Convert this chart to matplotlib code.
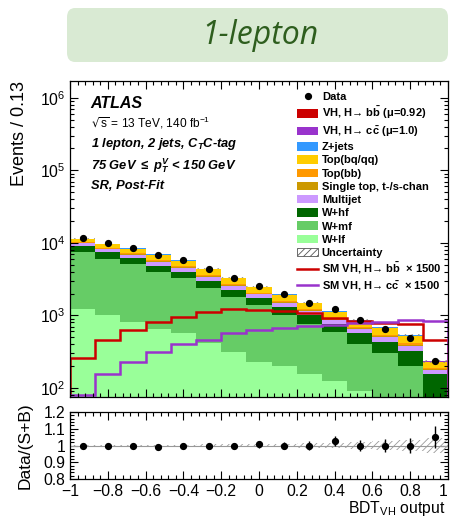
'''
1-lepton BDT_VH output, post-fit stack with ratio panel
'''

import numpy as np
import matplotlib
matplotlib.use('Agg')
import matplotlib.pyplot as plt
from matplotlib.patches import FancyBboxPatch, Patch
from matplotlib.lines import Line2D
from matplotlib.ticker import MultipleLocator, LogLocator, NullFormatter, FixedLocator

plt.rcParams['font.family'] = ['Liberation Sans', 'DejaVu Sans']
plt.rcParams['mathtext.default'] = 'regular'
plt.rcParams['hatch.linewidth'] = 0.6

# ---- data ----
edges = np.linspace(-1.0, 1.0, 16)

w_lf     = [1220, 1015, 805, 645, 568, 418, 314, 229, 201, 156, 122, 89, 65, 50, 30]
w_mf     = [6370, 5055, 4275, 3335, 2692, 1997, 1486, 1154, 815, 608, 476, 315, 236, 147, 35]
w_hf     = [1590, 1380, 1190, 880, 760, 575, 450, 344, 306, 252, 159, 164, 134, 120, 91]
multijet = [640, 650, 610, 590, 490, 400, 300, 215, 180, 135, 110, 85, 70, 60, 20]
stop_ts  = [115, 115, 110, 105, 88, 72, 54, 39, 32, 24, 20, 15, 13, 11, 4]
top_bb   = [230, 230, 220, 210, 175, 143, 107, 77, 64, 48, 40, 30, 25, 22, 8]
top_bqqq = [1140, 1160, 1090, 1060, 875, 715, 535, 387, 320, 242, 198, 150, 126, 110, 38]
zjets    = [140, 140, 130, 130, 105, 86, 64, 46, 38, 29, 24, 18, 15, 13, 4]
vh_cc    = [0.05, 0.1, 0.15, 0.2, 0.27, 0.3, 0.38, 0.41, 0.45, 0.48, 0.49, 0.52, 0.53, 0.57, 0.55]
vh_bb    = [0.16, 0.28, 0.39, 0.49, 0.58, 0.69, 0.75, 0.73, 0.70, 0.66, 0.57, 0.51, 0.48, 0.47, 0.28]

sm_bb_x1500 = [257, 459, 631, 806, 944, 1128, 1218, 1191, 1143, 1072, 933, 832, 776, 764, 459]
sm_cc_x1500 = [81, 156, 225, 314, 405, 459, 574, 621, 679, 717, 740, 776, 801, 859, 826]

data = [11600, 9900, 8530, 6900, 5770, 4370, 3320, 2580, 1980, 1500, 1217, 867, 658, 484, 238]

ratio     = [1.0, 1.0, 0.995, 0.99, 1.0, 0.998, 1.0, 1.008, 1.0, 1.0, 1.025, 1.0, 1.0, 1.0, 1.05]
ratio_err = [0.009, 0.010, 0.011, 0.012, 0.013, 0.015, 0.017, 0.020, 0.022, 0.026, 0.029, 0.034, 0.039, 0.045, 0.065]
rel_unc   = [0.004, 0.004, 0.005, 0.005, 0.005, 0.006, 0.007, 0.008, 0.010, 0.012, 0.015, 0.020, 0.025, 0.035, 0.045]

# bottom -> top
stack = [
  (w_lf,     '#99ff99', 'W+lf'),
  (w_mf,     '#66cc66', 'W+mf'),
  (w_hf,     '#006600', 'W+hf'),
  (multijet, '#cc99ff', 'Multijet'),
  (stop_ts,  '#cc9900', 'Single top, t-/s-chan'),
  (top_bb,   '#ff9900', 'Top(bb)'),
  (top_bqqq, '#ffcc00', 'Top(bq/qq)'),
  (zjets,    '#3399ff', 'Z+jets'),
  (vh_cc,    '#9933cc', 'VH, H\u2192 c$\\bar{c}$ (\u03bc=1.0)'),
  (vh_bb,    '#cc0000', 'VH, H\u2192 b$\\bar{b}$ (\u03bc=0.92)'),
]

W, H = 450, 519
fig = plt.figure(figsize=(W/100., H/100.), dpi=100)

ax = fig.add_axes([70/W, 1-397/H, 378/W, 316/H])
axr = fig.add_axes([70/W, 1-479/H, 378/W, 67/H], sharex=ax)

# ---- banner ----
banner = FancyBboxPatch((67/W, 1-62/H), 381/W, 54/H, boxstyle="round,pad=0,rounding_size=0.018",
                        transform=fig.transFigure, facecolor='#d9ead3', edgecolor='none')
fig.patches.append(banner)
fig.text(260/W, 1-36/H, '1-lepton', family=['Open Sans', 'DejaVu Sans'], style='italic',
         fontsize=23, color='#2e5e1e', ha='center', va='center')

# ---- main stack ----
base = np.ones(len(data))
for vals, col, lab in stack:
  top = base + np.array(vals, dtype=float)
  ax.stairs(top, edges, baseline=base, fill=True, color=col, lw=0)
  base = top

total = base - 1
unc = np.array(rel_unc)
ax.stairs(total*(1+unc), edges, baseline=total*(1-unc), fill=True, facecolor='none',
          edgecolor='#888888', hatch='/////', lw=0)

ax.stairs(sm_bb_x1500, edges, color='#cc0000', lw=1.8)
ax.stairs(sm_cc_x1500, edges, color='#9933cc', lw=1.8)

centres = 0.5*(edges[1:] + edges[:-1])
ax.errorbar(centres, data, yerr=np.sqrt(data), fmt='o', color='black', ms=4.2, lw=1)

ax.set_yscale('log')
ax.set_ylim(75, 1.7e6)
ax.set_xlim(-1, 1)

ax.yaxis.set_major_locator(LogLocator(base=10, numticks=10))
ax.yaxis.set_minor_locator(LogLocator(base=10, subs=np.arange(2, 10), numticks=20))
ax.yaxis.set_minor_formatter(NullFormatter())
ax.set_ylabel('Events / 0.13', fontsize=13, loc='top')
ax.yaxis.set_label_coords(-0.111, 1.0)
plt.setp(ax.get_xticklabels(), visible=False)

# ---- texts ----
ax.text(0.055, 0.930, 'ATLAS', transform=ax.transAxes, fontsize=11.5, weight='bold', style='italic', va='center')
ax.text(0.055, 0.866, r'$\sqrt{s}$ = 13 TeV, 140 fb$^{-1}$', transform=ax.transAxes, fontsize=8.6, va='center')
ax.text(0.055, 0.800, r'1 lepton, 2 jets, C$_{T}$C-tag', transform=ax.transAxes, fontsize=9.3,
        weight='bold', style='italic', va='center')
ax.text(0.055, 0.733, r'75 GeV $\leq$ p$_{T}^{V}$ < 150 GeV', transform=ax.transAxes, fontsize=9.3,
        weight='bold', style='italic', va='center')
ax.text(0.055, 0.668, 'SR, Post-Fit', transform=ax.transAxes, fontsize=9.3,
        weight='bold', style='italic', va='center')

# ---- legend ----
handles = [Line2D([], [], ls='none', marker='o', color='black', ms=4.2)]
labels = ['Data']
for vals, col, lab in stack[::-1]:
  handles.append(Patch(facecolor=col, edgecolor='none'))
  labels.append(lab)
handles.append(Patch(facecolor='white', edgecolor='#555555', hatch='/////', lw=0.6))
labels.append('Uncertainty')
handles.append(Line2D([], [], color='#cc0000', lw=1.8))
labels.append('SM VH, H\u2192 b$\\bar{b}$  \u00d7 1500')
handles.append(Line2D([], [], color='#9933cc', lw=1.8))
labels.append('SM VH, H\u2192 c$\\bar{c}$  \u00d7 1500')

ax.legend(handles, labels, loc='upper left', bbox_to_anchor=(0.6, 0.966), frameon=False,
          prop={'size': 8, 'weight': 'bold'}, handlelength=1.95, handleheight=0.8,
          handletextpad=0.3, labelspacing=0.28, borderaxespad=0, borderpad=0)

# ---- ratio panel ----
ru = np.array(rel_unc)
axr.stairs(1+ru, edges, baseline=1-ru, fill=True, facecolor='none', edgecolor='#999999',
           hatch='/////', lw=0)
axr.axhline(1.0, color='#999999', lw=0.8)
axr.errorbar(centres, ratio, yerr=ratio_err, fmt='o', color='black', ms=4.2, lw=1)
axr.set_ylim(0.8, 1.2)
axr.yaxis.set_major_locator(FixedLocator([0.8, 0.9, 1.0, 1.1, 1.2]))
axr.yaxis.set_minor_locator(MultipleLocator(0.02))
axr.set_yticklabels(['0.8', '0.9', '1', '1.1', '1.2'])
axr.set_ylabel('Data/(S+B)', fontsize=12.5)
axr.yaxis.set_label_coords(-0.098, 0.5)
axr.set_xlabel(r'BDT$_{VH}$ output', fontsize=11.3, loc='right')
axr.xaxis.set_label_coords(0.993, -0.30)
axr.xaxis.set_major_locator(MultipleLocator(0.2))
axr.xaxis.set_minor_locator(MultipleLocator(0.04))
axr.set_xticks(np.arange(-1, 1.01, 0.2))
axr.set_xticklabels(['\u22121', '\u22120.8', '\u22120.6', '\u22120.4', '\u22120.2', '0',
                     '0.2', '0.4', '0.6', '0.8', '1'])
axr.get_xticklabels()[-1].set_ha('right')

for a in (ax, axr):
  a.tick_params(which='both', direction='in', top=True, right=True, labelsize=11.3)
  a.tick_params(which='major', length=6, width=0.8)
  a.tick_params(which='minor', length=3, width=0.8)
  for s in a.spines.values():
    s.set_linewidth(0.9)

plt.savefig('out.png', dpi=100)
